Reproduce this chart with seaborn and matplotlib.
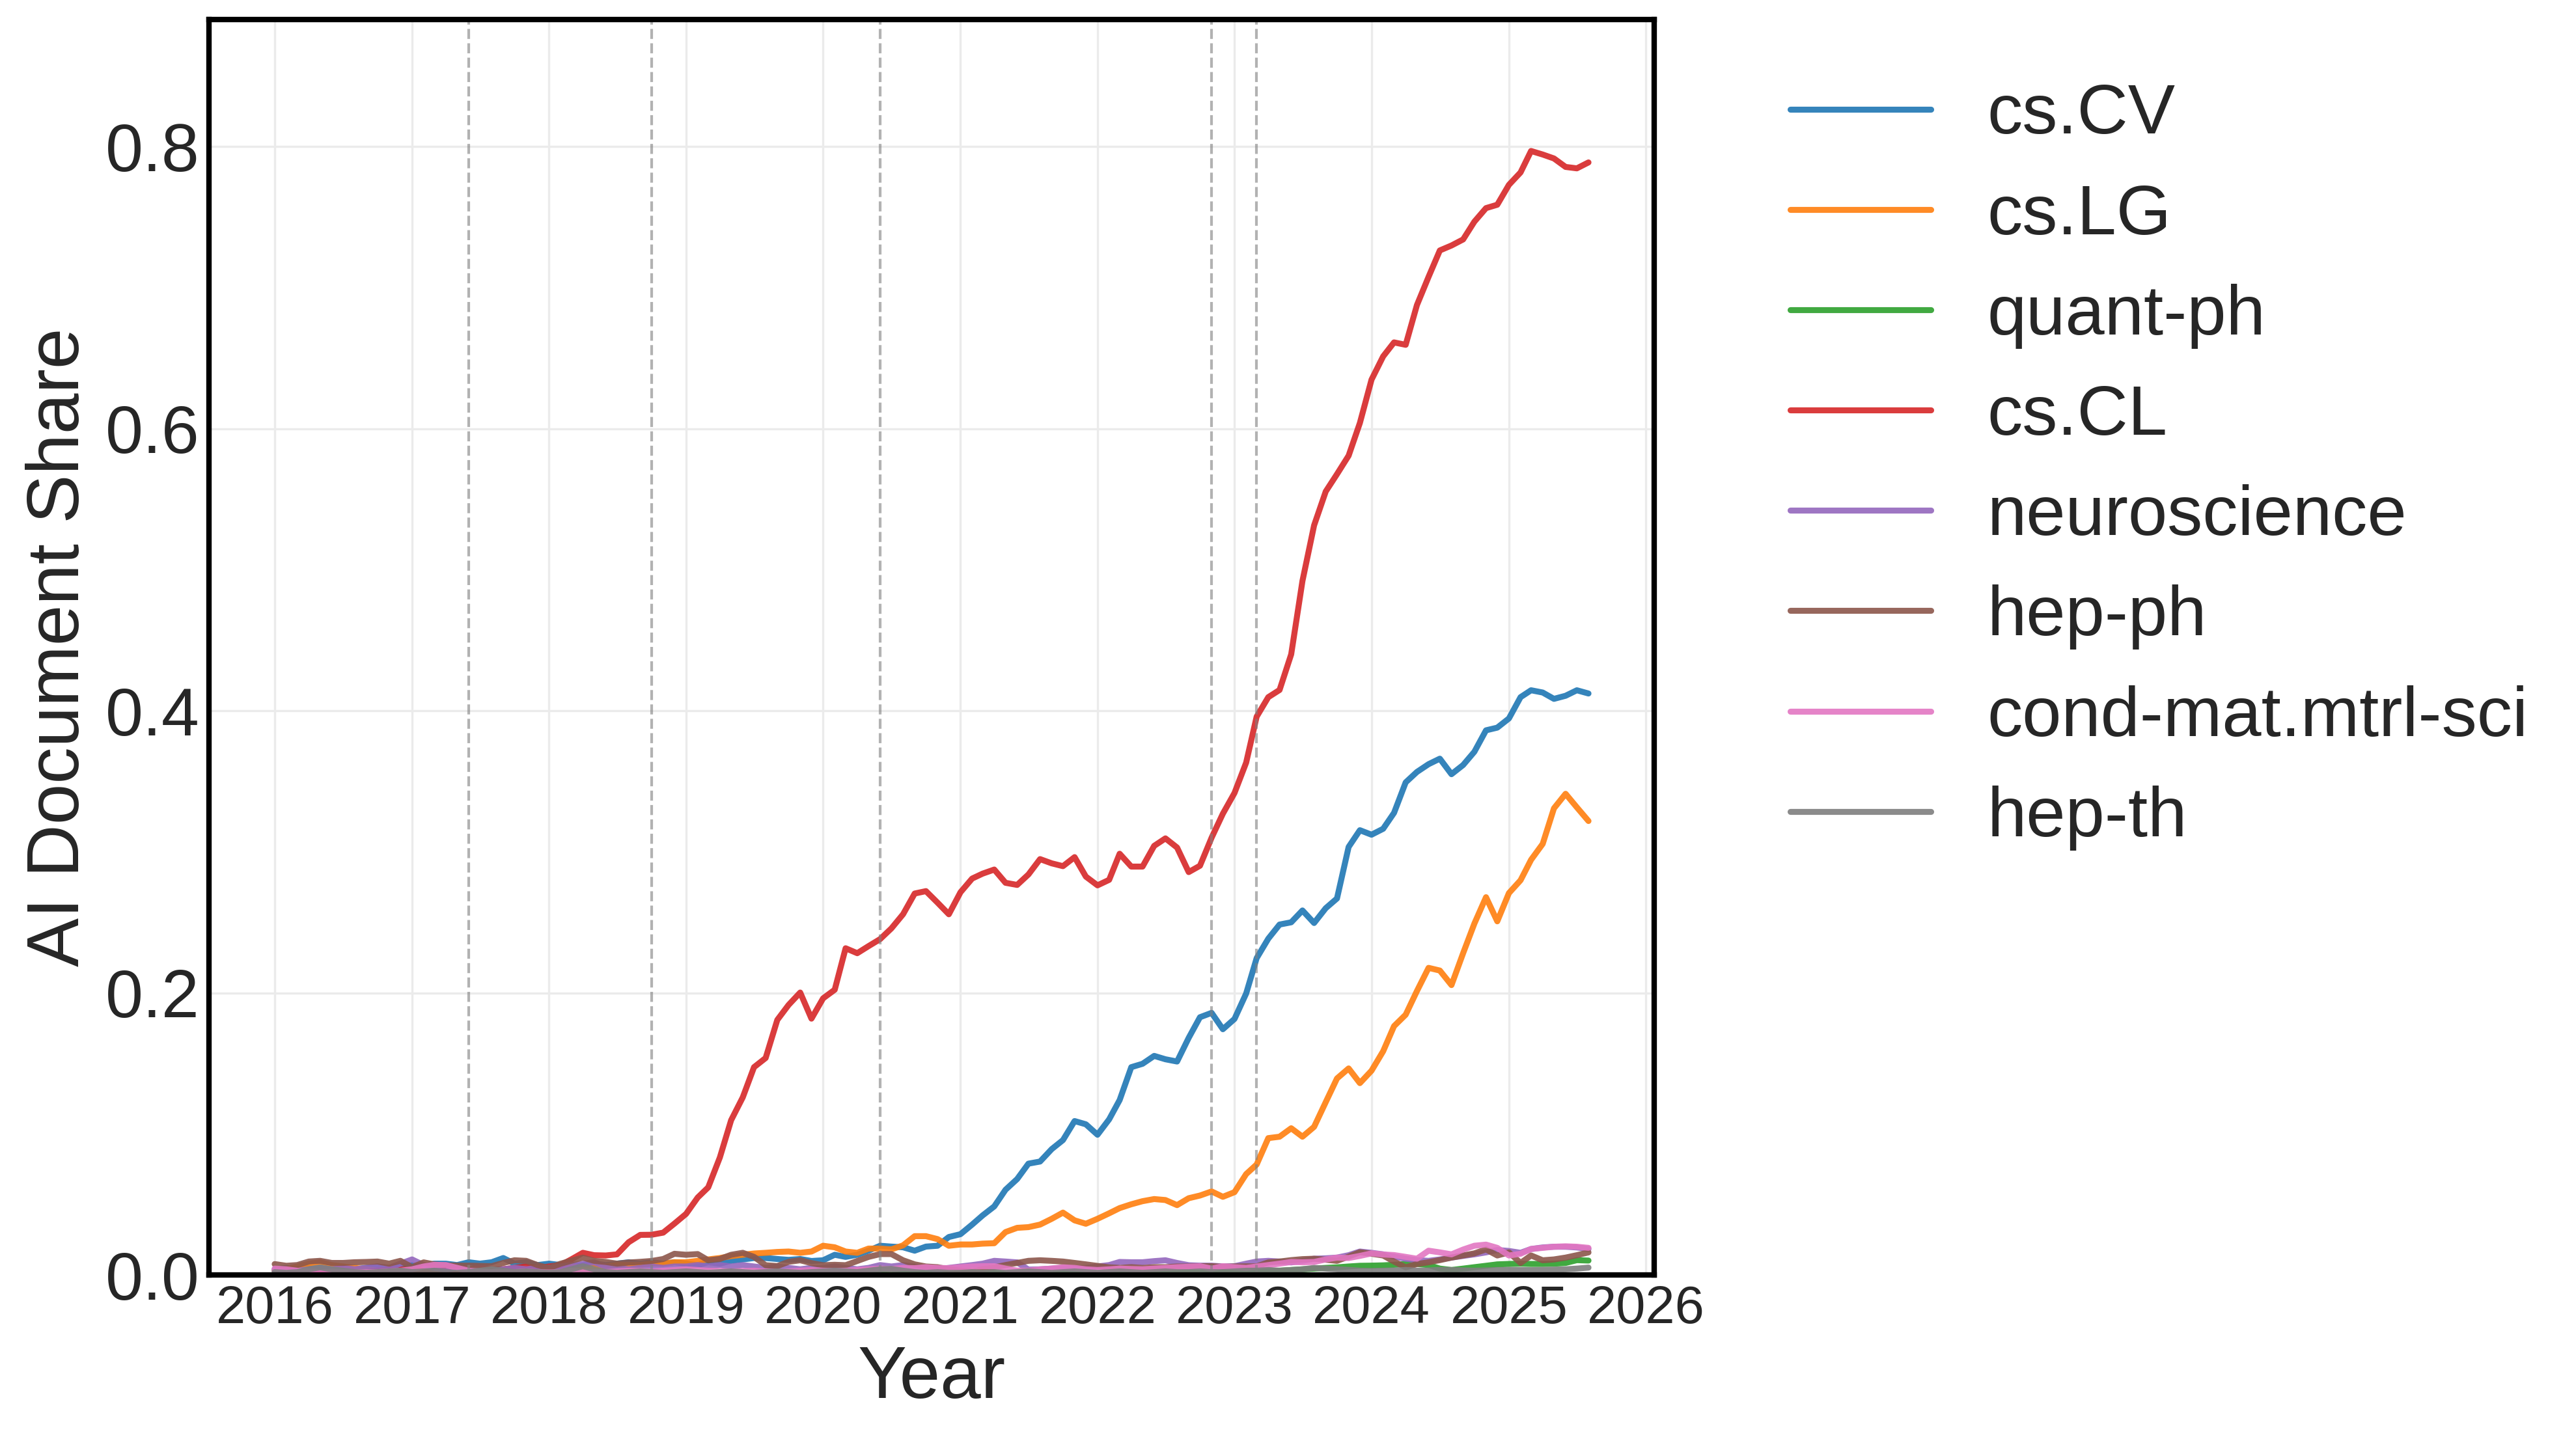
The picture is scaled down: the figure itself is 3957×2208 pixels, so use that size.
import pandas as pd
import seaborn as sns
import matplotlib.pyplot as plt
import matplotlib.dates as mdates
from matplotlib.ticker import MultipleLocator

# monthly share of AI-assisted documents, Jan 2016 .. Aug 2025 (one row per year)
months = pd.date_range("2016-01-01", periods=116, freq="MS")

cs_cv = [
    0.004, 0.005, 0.004, 0.005, 0.004, 0.004, 0.005, 0.004, 0.005, 0.006, 0.005, 0.006,
    0.007, 0.006, 0.008, 0.008, 0.007, 0.009, 0.008, 0.009, 0.012, 0.008, 0.009, 0.007,
    0.008, 0.007, 0.006, 0.007, 0.008, 0.007, 0.008, 0.009, 0.008, 0.009, 0.008, 0.009,
    0.008, 0.007, 0.009, 0.008, 0.010, 0.011, 0.012, 0.012, 0.0113, 0.0107, 0.0113, 0.0099,
    0.0104, 0.0143, 0.0128, 0.0143, 0.0172, 0.0207, 0.0201, 0.0196, 0.0172, 0.0201, 0.0207, 0.0269,
    0.0289, 0.0357, 0.0422, 0.0486, 0.0604, 0.0680, 0.0789, 0.0804, 0.0892, 0.0956, 0.1091, 0.1068,
    0.0994, 0.1103, 0.1240, 0.1473, 0.1497, 0.1553, 0.1529, 0.1513, 0.1681, 0.1827, 0.1858, 0.1742,
    0.1815, 0.1995, 0.2246, 0.2384, 0.2484, 0.2500, 0.2584, 0.2495, 0.2600, 0.2669, 0.3034, 0.3153,
    0.3121, 0.3163, 0.3276, 0.3492, 0.3566, 0.3621, 0.3660, 0.3550, 0.3615, 0.3709, 0.3861, 0.3880,
    0.3945, 0.4096, 0.4145, 0.4129, 0.4084, 0.4106, 0.4145, 0.4122,
]
cs_lg = [
    0.003, 0.004, 0.006, 0.008, 0.009, 0.007, 0.006, 0.005, 0.004, 0.003, 0.003, 0.003,
    0.003, 0.004, 0.003, 0.004, 0.003, 0.004, 0.004, 0.003, 0.004, 0.005, 0.004, 0.005,
    0.005, 0.005, 0.006, 0.005, 0.006, 0.006, 0.007, 0.007, 0.007, 0.008, 0.008, 0.009,
    0.009, 0.010, 0.011, 0.0120, 0.0134, 0.0143, 0.0152, 0.0157, 0.0163, 0.0166, 0.0157, 0.0166,
    0.0207, 0.0196, 0.0166, 0.0157, 0.0187, 0.0187, 0.0181, 0.0210, 0.0275, 0.0275, 0.0254, 0.0207,
    0.0216, 0.0216, 0.0222, 0.0225, 0.0304, 0.0334, 0.0339, 0.0357, 0.0398, 0.0442, 0.0387, 0.0363,
    0.0398, 0.0437, 0.0474, 0.0501, 0.0523, 0.0538, 0.0531, 0.0495, 0.0544, 0.0563, 0.0592, 0.0554,
    0.0587, 0.0715, 0.0783, 0.0970, 0.0980, 0.1040, 0.0980, 0.1050, 0.1225, 0.1393, 0.1464, 0.1360,
    0.1448, 0.1586, 0.1764, 0.1845, 0.2013, 0.2177, 0.2158, 0.2055, 0.2281, 0.2491, 0.2678, 0.2507,
    0.2707, 0.2798, 0.2943, 0.3056, 0.3308, 0.3411, 0.3315, 0.3218,
]
quant_ph = [
    0.0010, 0.0010, 0.0015, 0.0010, 0.0010, 0.0015, 0.0020, 0.0015, 0.0010, 0.0010, 0.0010, 0.0015,
    0.0010, 0.0015, 0.0010, 0.0010, 0.0015, 0.0010, 0.0010, 0.0015, 0.0010, 0.0010, 0.0015, 0.0010,
    0.0010, 0.0010, 0.0015, 0.0010, 0.0010, 0.0015, 0.0010, 0.0010, 0.0015, 0.0010, 0.0010, 0.0015,
    0.0010, 0.0015, 0.0010, 0.0010, 0.0015, 0.0010, 0.0010, 0.0015, 0.0010, 0.0010, 0.0015, 0.0010,
    0.0015, 0.0010, 0.0010, 0.0015, 0.0010, 0.0015, 0.0010, 0.0010, 0.0015, 0.0010, 0.0015, 0.0010,
    0.0010, 0.0015, 0.0010, 0.0015, 0.0010, 0.0015, 0.0015, 0.0010, 0.0015, 0.0015, 0.0010, 0.0015,
    0.0015, 0.0015, 0.0010, 0.0015, 0.0015, 0.0020, 0.0015, 0.0015, 0.0020, 0.0015, 0.0020, 0.0020,
    0.0020, 0.0022, 0.0025, 0.0028, 0.0030, 0.0035, 0.0040, 0.0045, 0.0050, 0.0054, 0.0060, 0.0065,
    0.0066, 0.0068, 0.0072, 0.0078, 0.0078, 0.0070, 0.0045, 0.0035, 0.0045, 0.0055, 0.0065, 0.0075,
    0.0078, 0.0080, 0.0078, 0.0078, 0.0080, 0.0085, 0.0105, 0.0102,
]
cs_cl = [
    0.001, 0.001, 0.001, 0.001, 0.002, 0.001, 0.001, 0.002, 0.002, 0.003, 0.004, 0.004,
    0.004, 0.003, 0.002, 0.002, 0.003, 0.002, 0.003, 0.003, 0.004, 0.005, 0.006, 0.005,
    0.006, 0.007, 0.011, 0.0157, 0.0140, 0.0138, 0.0146, 0.0232, 0.0284, 0.0285, 0.0300, 0.0364,
    0.0433, 0.0549, 0.0621, 0.0833, 0.1097, 0.1259, 0.1473, 0.1538, 0.1808, 0.1914, 0.2002, 0.1817,
    0.1961, 0.2022, 0.2316, 0.2281, 0.2331, 0.2381, 0.2457, 0.2557, 0.2704, 0.2721, 0.2639, 0.2557,
    0.2713, 0.2810, 0.2845, 0.2874, 0.2780, 0.2765, 0.2839, 0.2948, 0.2918, 0.2898, 0.2962, 0.2824,
    0.2762, 0.2801, 0.2986, 0.2895, 0.2895, 0.3042, 0.3095, 0.3030, 0.2856, 0.2901, 0.3100, 0.3270,
    0.3417, 0.3632, 0.3958, 0.4096, 0.4147, 0.4400, 0.4920, 0.5314, 0.5554, 0.5677, 0.5808, 0.6040,
    0.6347, 0.6512, 0.6611, 0.6594, 0.6876, 0.7076, 0.7263, 0.7298, 0.7341, 0.7467, 0.7563, 0.7587,
    0.7728, 0.7816, 0.7968, 0.7943, 0.7915, 0.7855, 0.7845, 0.7887,
]
neuroscience = [
    0.003, 0.004, 0.003, 0.004, 0.005, 0.004, 0.005, 0.004, 0.005, 0.006, 0.005, 0.008,
    0.011, 0.007, 0.005, 0.004, 0.005, 0.004, 0.005, 0.004, 0.004, 0.005, 0.004, 0.005,
    0.005, 0.006, 0.007, 0.008, 0.009, 0.006, 0.005, 0.004, 0.005, 0.006, 0.005, 0.006,
    0.006, 0.007, 0.006, 0.007, 0.006, 0.007, 0.006, 0.005, 0.006, 0.005, 0.004, 0.005,
    0.005, 0.006, 0.005, 0.004, 0.005, 0.007, 0.006, 0.007, 0.006, 0.005, 0.004, 0.005,
    0.006, 0.007, 0.008, 0.0100, 0.0095, 0.0089, 0.0038, 0.0040, 0.0045, 0.0050, 0.0045, 0.0050,
    0.0060, 0.0070, 0.0092, 0.0090, 0.0090, 0.0098, 0.0104, 0.0085, 0.0069, 0.0066, 0.0066, 0.0060,
    0.0062, 0.0080, 0.0095, 0.0100, 0.0095, 0.0089, 0.0100, 0.0115, 0.0118, 0.0123, 0.0140, 0.0166,
    0.0157, 0.0146, 0.0130, 0.0115, 0.0105, 0.0100, 0.0110, 0.0123, 0.0135, 0.0146, 0.0160, 0.0177,
    0.0170, 0.0157, 0.0184, 0.0195, 0.0200, 0.0200, 0.0195, 0.0184,
]
hep_ph = [
    0.0077, 0.0065, 0.0070, 0.0095, 0.0100, 0.0085, 0.0085, 0.0090, 0.0092, 0.0095, 0.0080, 0.0100,
    0.0055, 0.0089, 0.0075, 0.0068, 0.0066, 0.0066, 0.0064, 0.0062, 0.0085, 0.0104, 0.0100, 0.0070,
    0.0049, 0.0080, 0.0100, 0.0123, 0.0100, 0.0092, 0.0080, 0.0088, 0.0093, 0.0099, 0.0113, 0.0150,
    0.0143, 0.0148, 0.0104, 0.0113, 0.0143, 0.0157, 0.0128, 0.0069, 0.0063, 0.0093, 0.0104, 0.0084,
    0.0069, 0.0072, 0.0069, 0.0099, 0.0128, 0.0148, 0.0148, 0.0104, 0.0075, 0.0060, 0.0055, 0.0040,
    0.0030, 0.0025, 0.0040, 0.0054, 0.0070, 0.0085, 0.0100, 0.0104, 0.0100, 0.0095, 0.0085, 0.0075,
    0.0064, 0.0054, 0.0050, 0.0055, 0.0050, 0.0055, 0.0055, 0.0060, 0.0060, 0.0062, 0.0062, 0.0058,
    0.0060, 0.0061, 0.0061, 0.0089, 0.0095, 0.0105, 0.0112, 0.0115, 0.0108, 0.0100, 0.0130, 0.0161,
    0.0150, 0.0138, 0.0095, 0.0054, 0.0077, 0.0090, 0.0105, 0.0123, 0.0138, 0.0153, 0.0181, 0.0138,
    0.0160, 0.0085, 0.0138, 0.0104, 0.0110, 0.0123, 0.0140, 0.0160,
]
cond_mat = [
    0.0045, 0.0040, 0.0030, 0.0025, 0.0020, 0.0022, 0.0020, 0.0018, 0.0020, 0.0020, 0.0025, 0.0030,
    0.0040, 0.0060, 0.0072, 0.0070, 0.0050, 0.0030, 0.0025, 0.0020, 0.0022, 0.0020, 0.0025, 0.0020,
    0.0018, 0.0020, 0.0030, 0.0025, 0.0020, 0.0020, 0.0025, 0.0030, 0.0028, 0.0025, 0.0030, 0.0035,
    0.0040, 0.0035, 0.0030, 0.0028, 0.0025, 0.0028, 0.0030, 0.0025, 0.0022, 0.0025, 0.0030, 0.0035,
    0.0030, 0.0028, 0.0030, 0.0035, 0.0040, 0.0045, 0.0042, 0.0050, 0.0048, 0.0055, 0.0050, 0.0048,
    0.0055, 0.0060, 0.0062, 0.0062, 0.0045, 0.0031, 0.0030, 0.0040, 0.0045, 0.0054, 0.0050, 0.0040,
    0.0035, 0.0040, 0.0045, 0.0042, 0.0040, 0.0045, 0.0050, 0.0055, 0.0058, 0.0062, 0.0045, 0.0062,
    0.0055, 0.0050, 0.0060, 0.0070, 0.0080, 0.0092, 0.0090, 0.0092, 0.0110, 0.0123, 0.0120, 0.0135,
    0.0153, 0.0145, 0.0141, 0.0128, 0.0115, 0.0172, 0.0160, 0.0146, 0.0180, 0.0207, 0.0215, 0.0192,
    0.0138, 0.0150, 0.0184, 0.0192, 0.0200, 0.0203, 0.0200, 0.0192,
]
hep_th = [
    0.0020, 0.0015, 0.0020, 0.0040, 0.0054, 0.0040, 0.0030, 0.0020, 0.0015, 0.0020, 0.0025, 0.0030,
    0.0020, 0.0025, 0.0030, 0.0020, 0.0015, 0.0020, 0.0030, 0.0040, 0.0030, 0.0020, 0.0025, 0.0020,
    0.0015, 0.0020, 0.0040, 0.0062, 0.0040, 0.0020, 0.0015, 0.0020, 0.0025, 0.0020, 0.0015, 0.0020,
    0.0025, 0.0020, 0.0015, 0.0020, 0.0025, 0.0020, 0.0015, 0.0020, 0.0025, 0.0020, 0.0015, 0.0020,
    0.0025, 0.0030, 0.0025, 0.0020, 0.0030, 0.0040, 0.0043, 0.0030, 0.0020, 0.0015, 0.0020, 0.0015,
    0.0015, 0.0020, 0.0015, 0.0020, 0.0015, 0.0020, 0.0025, 0.0020, 0.0015, 0.0020, 0.0025, 0.0020,
    0.0015, 0.0020, 0.0025, 0.0020, 0.0015, 0.0020, 0.0025, 0.0020, 0.0020, 0.0025, 0.0020, 0.0020,
    0.0025, 0.0030, 0.0030, 0.0035, 0.0030, 0.0035, 0.0040, 0.0050, 0.0045, 0.0040, 0.0036, 0.0030,
    0.0028, 0.0030, 0.0032, 0.0035, 0.0030, 0.0032, 0.0036, 0.0035, 0.0032, 0.0030, 0.0032, 0.0035,
    0.0036, 0.0035, 0.0034, 0.0036, 0.0038, 0.0040, 0.0045, 0.0052,
]

categories = ["cs.CV", "cs.LG", "quant-ph", "cs.CL", "neuroscience",
              "hep-ph", "cond-mat.mtrl-sci", "hep-th"]
series = [cs_cv, cs_lg, quant_ph, cs_cl, neuroscience, hep_ph, cond_mat, hep_th]

# model release months (Transformer, BERT, GPT-3, ChatGPT, GPT-4)
milestones = ["2017-06-01", "2018-10-01", "2020-06-01", "2022-11-01", "2023-03-01"]

df = pd.concat(
    [pd.DataFrame({"date": months, "share": vals, "category": name})
     for name, vals in zip(categories, series)],
    ignore_index=True,
)

sns.set_theme(style="whitegrid")
plt.rcParams["font.family"] = ["Liberation Sans", "DejaVu Sans"]

W, H, DPI = 3957, 2208, 300
fig = plt.figure(figsize=(W / DPI, H / DPI), dpi=DPI)
ax = fig.add_axes([321 / W, 1 - 1959 / H, (2541 - 321) / W, (1959 - 30) / H])

palette = dict(zip(categories, sns.color_palette("tab10", len(categories))))
sns.lineplot(data=df, x="date", y="share", hue="category", hue_order=categories,
             palette=palette, linewidth=2.2, alpha=0.9, ax=ax)

for d in milestones:
    ax.axvline(pd.Timestamp(d), color="gray", linestyle="--", linewidth=1.0, alpha=0.6)

ax.set_ylim(0, 0.89)
ax.yaxis.set_major_locator(MultipleLocator(0.2))
ax.xaxis.set_major_locator(mdates.YearLocator())
ax.xaxis.set_major_formatter(mdates.DateFormatter("%Y"))
ax.tick_params(axis="both", length=0, pad=3.5)
ax.tick_params(axis="x", labelsize=19.5)
ax.tick_params(axis="y", labelsize=25)
ax.set_xlabel("Year", fontsize=27)
ax.set_ylabel("AI Document Share", fontsize=27)
ax.grid(color="#ebebeb", linewidth=0.8)
for s in ax.spines.values():
    s.set_color("black")
    s.set_linewidth(2)

handles, labels = ax.get_legend_handles_labels()
ax.legend(handles, labels, loc="upper left", bbox_to_anchor=(1.05, 1),
          frameon=False, fontsize=26)

fig.savefig("out.png", dpi=DPI)
